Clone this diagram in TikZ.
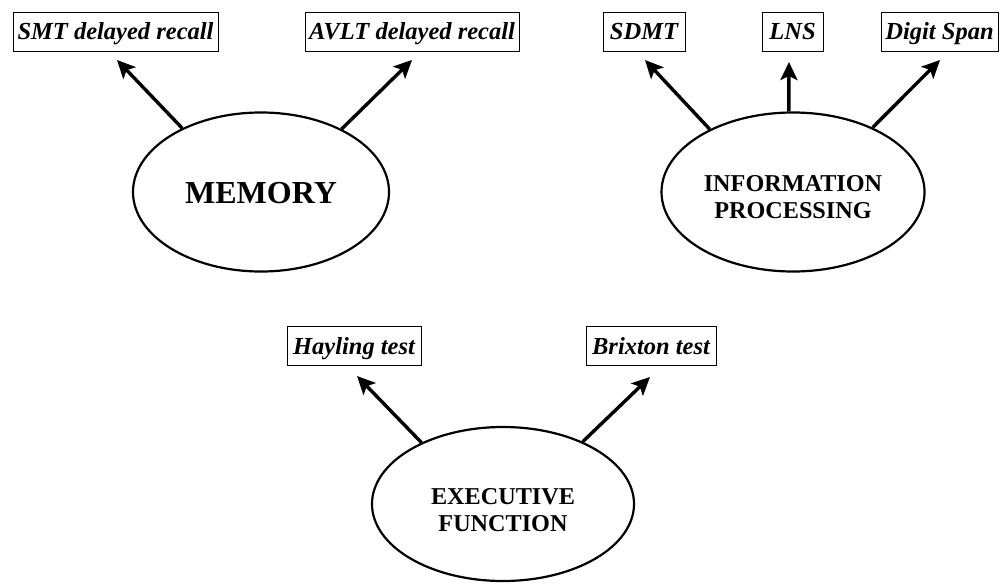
\documentclass[tikz,border=0pt]{standalone}
\usepackage{fontspec}
\setmainfont{Liberation Serif}
\usetikzlibrary{shapes.geometric,arrows.meta}
\begin{document}
\begin{tikzpicture}[x=1pt,y=-1pt,
  testbox/.style={draw,line width=1pt,inner sep=0pt,minimum height=39pt,
    text height=20pt,text depth=4pt,
    font=\fontsize{24.5}{26}\selectfont\bfseries\itshape},
  factor/.style={draw,ellipse,line width=2.2pt,inner sep=0pt},
  factortext/.style={align=center,inner sep=0pt,
    font=\fontsize{24.2}{26.5}\selectfont\bfseries},
  arr/.style={line width=3.4pt,-{Stealth[length=18pt,width=17pt,inset=4pt]}}]
\useasboundingbox (0,0) rectangle (1000,583);
% factors
\node[factor,minimum width=256pt,minimum height=159pt] (mem) at (261,192) {};
\node[factortext,font=\fontsize{32}{36}\selectfont\bfseries] (memt) at ([yshift=-1pt]mem.center) {MEMORY};
\node[factor,minimum width=263pt,minimum height=159pt] (info) at (793,192) {};
\node[factortext] (infot) at ([yshift=-5pt]info.center) {INFORMATION\\PROCESSING};
\node[factor,minimum width=262pt,minimum height=154pt] (exec) at (503,504) {};
\node[factortext] (exect) at ([yshift=-6pt]exec.center) {EXECUTIVE\\FUNCTION};
% tests
\node[testbox,minimum width=205pt] (smt) at (115.5,32) {SMT delayed recall};
\node[testbox,minimum width=214pt] (avlt) at (412,32) {AVLT delayed recall};
\node[testbox,minimum width=82pt] (sdmt) at (644,32) {SDMT};
\node[testbox,minimum width=61pt] (lns) at (792.5,32) {LNS};
\node[testbox,minimum width=117pt] (digit) at (939.5,32) {Digit Span};
\node[testbox,minimum width=134pt] (hay) at (354,346) {Hayling test};
\node[testbox,minimum width=130pt] (brix) at (651,346) {Brixton test};
% arrow tips
\coordinate (tsmt) at (117,60);
\coordinate (tavlt) at (412,60);
\coordinate (tsdmt) at (645,60);
\coordinate (tlns) at (789,62);
\coordinate (tdigit) at (940,60);
\coordinate (thay) at (357,376);
\coordinate (tbrix) at (650,377);
% arrows
\draw[arr] (mem.141.7) -- (tsmt);
\draw[arr] (mem.38.4) -- (tavlt);
\draw[arr] (info.143) -- (tsdmt);
\draw[arr] (info.93) -- (tlns);
\draw[arr] (info.39.5) -- (tdigit);
\draw[arr] (exec.143.9) -- (thay);
\draw[arr] (exec.38.2) -- (tbrix);
\end{tikzpicture}
\end{document}
